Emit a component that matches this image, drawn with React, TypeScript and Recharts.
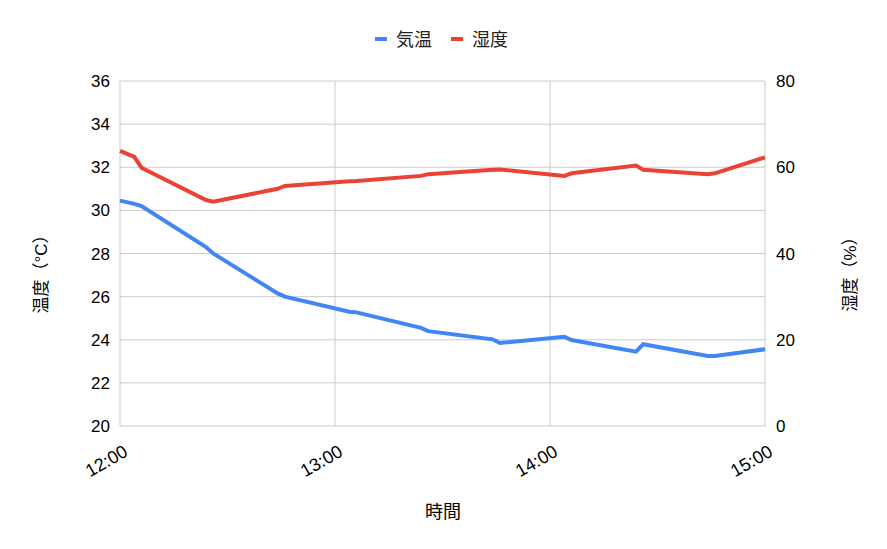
import React from "react";
import {
  LineChart,
  Line,
  XAxis,
  YAxis,
  CartesianGrid,
} from "recharts";

// minutes after 12:00
const MINUTES = [0, 4, 6, 24, 26, 44, 46, 64, 66, 84, 86, 104, 106, 124, 126, 144, 146, 164, 166, 180];
const TEMPERATURE = [30.45, 30.3, 30.2, 28.3, 28.0, 26.15, 26.0, 25.3, 25.27, 24.55, 24.4, 24.02, 23.85, 24.14, 23.99, 23.45, 23.79, 23.25, 23.25, 23.56];
const HUMIDITY = [63.8, 62.4, 59.9, 52.4, 52.0, 55.0, 55.65, 56.76, 56.8, 58.0, 58.4, 59.4, 59.5, 58.0, 58.6, 60.4, 59.4, 58.4, 58.6, 62.3];

const X_TICKS = [0, 60, 120, 180];
const X_TICK_LABELS = ["12:00", "13:00", "14:00", "15:00"];
const LEFT_TICKS = [20, 22, 24, 26, 28, 30, 32, 34, 36];
const RIGHT_TICKS = [0, 20, 40, 60, 80];

const SERIES = [
  { key: "temp", name: "気温", color: "#4285f4" },
  { key: "hum", name: "湿度", color: "#ea4335" },
];

const FONT = "'Liberation Sans', Arial, 'Noto Sans CJK JP', sans-serif";
const TEXT = "#000000";
const LEGEND_TEXT = "#222222";
const GRID = "#cccccc";

const data = MINUTES.map((m, i) => ({
  t: m,
  temp: TEMPERATURE[i],
  hum: HUMIDITY[i],
}));

/* eslint-disable @typescript-eslint/no-explicit-any */
function TimeTick({ x, y, payload }: any) {
  const idx = X_TICKS.indexOf(payload.value);
  const tx = x + 9;
  const ty = y + 15;
  return (
    <text
      x={tx}
      y={ty}
      transform={`rotate(-30 ${tx} ${ty})`}
      textAnchor="end"
      fontSize={18}
      fontFamily={FONT}
      fill={TEXT}
    >
      {X_TICK_LABELS[idx]}
    </text>
  );
}
/* eslint-enable @typescript-eslint/no-explicit-any */

export default function App() {
  return (
    <div
      style={{
        position: "absolute",
        left: 0,
        top: 0,
        width: 887,
        height: 549,
        background: "#fff",
        fontFamily: FONT,
      }}
    >
      <LineChart
        width={887}
        height={549}
        data={data}
        margin={{ top: 81, right: 62, bottom: 63, left: 60 }}
      >
        <CartesianGrid
          yAxisId="left"
          stroke={GRID}
          horizontalValues={LEFT_TICKS}
          verticalValues={X_TICKS}
        />
        <XAxis
          dataKey="t"
          type="number"
          domain={[0, 180]}
          ticks={X_TICKS}
          axisLine={false}
          tickLine={false}
          height={60}
          tick={<TimeTick />}
          tickMargin={0}
          tickSize={14}
        />
        <YAxis
          yAxisId="left"
          orientation="left"
          domain={[20, 36]}
          ticks={LEFT_TICKS}
          width={60}
          axisLine={false}
          tickLine={false}
          tickSize={10}
          tickMargin={0}
          tick={{ fontSize: 17, fill: TEXT, fontFamily: FONT }}
        />
        <YAxis
          yAxisId="right"
          orientation="right"
          domain={[0, 80]}
          ticks={RIGHT_TICKS}
          width={60}
          axisLine={false}
          tickLine={false}
          tickSize={11}
          tickMargin={0}
          tick={{ fontSize: 17, fill: TEXT, fontFamily: FONT }}
        />
        <Line
          yAxisId="left"
          dataKey="temp"
          name="気温"
          stroke={SERIES[0].color}
          strokeWidth={4}
          dot={false}
          activeDot={false}
          type="linear"
          isAnimationActive={false}
        />
        <Line
          yAxisId="right"
          dataKey="hum"
          name="湿度"
          stroke={SERIES[1].color}
          strokeWidth={4}
          dot={false}
          activeDot={false}
          type="linear"
          isAnimationActive={false}
        />
      </LineChart>

      {/* titles and legend */}
      <svg
        width={887}
        height={549}
        style={{ position: "absolute", left: 0, top: 0, pointerEvents: "none" }}
      >
        <text
          x={443}
          y={518}
          textAnchor="middle"
          fontSize={18}
          fontFamily={FONT}
          fill={TEXT}
        >
          時間
        </text>
        <text
          x={47}
          y={270}
          transform="rotate(-90 47 270)"
          textAnchor="middle"
          fontSize={17}
          fontFamily={FONT}
          fill={TEXT}
        >
          温度（°C）
        </text>
        <text
          x={856}
          y={270}
          transform="rotate(-90 856 270)"
          textAnchor="middle"
          fontSize={17}
          fontFamily={FONT}
          fill={TEXT}
        >
          湿度（%）
        </text>
        <rect x={375} y={37} width={12} height={4} fill={SERIES[0].color} />
        <text x={396} y={46} fontSize={18} fontFamily={FONT} fill={LEGEND_TEXT}>
          {SERIES[0].name}
        </text>
        <rect x={451} y={37} width={12} height={4} fill={SERIES[1].color} />
        <text x={472} y={46} fontSize={18} fontFamily={FONT} fill={LEGEND_TEXT}>
          {SERIES[1].name}
        </text>
      </svg>
    </div>
  );
}
